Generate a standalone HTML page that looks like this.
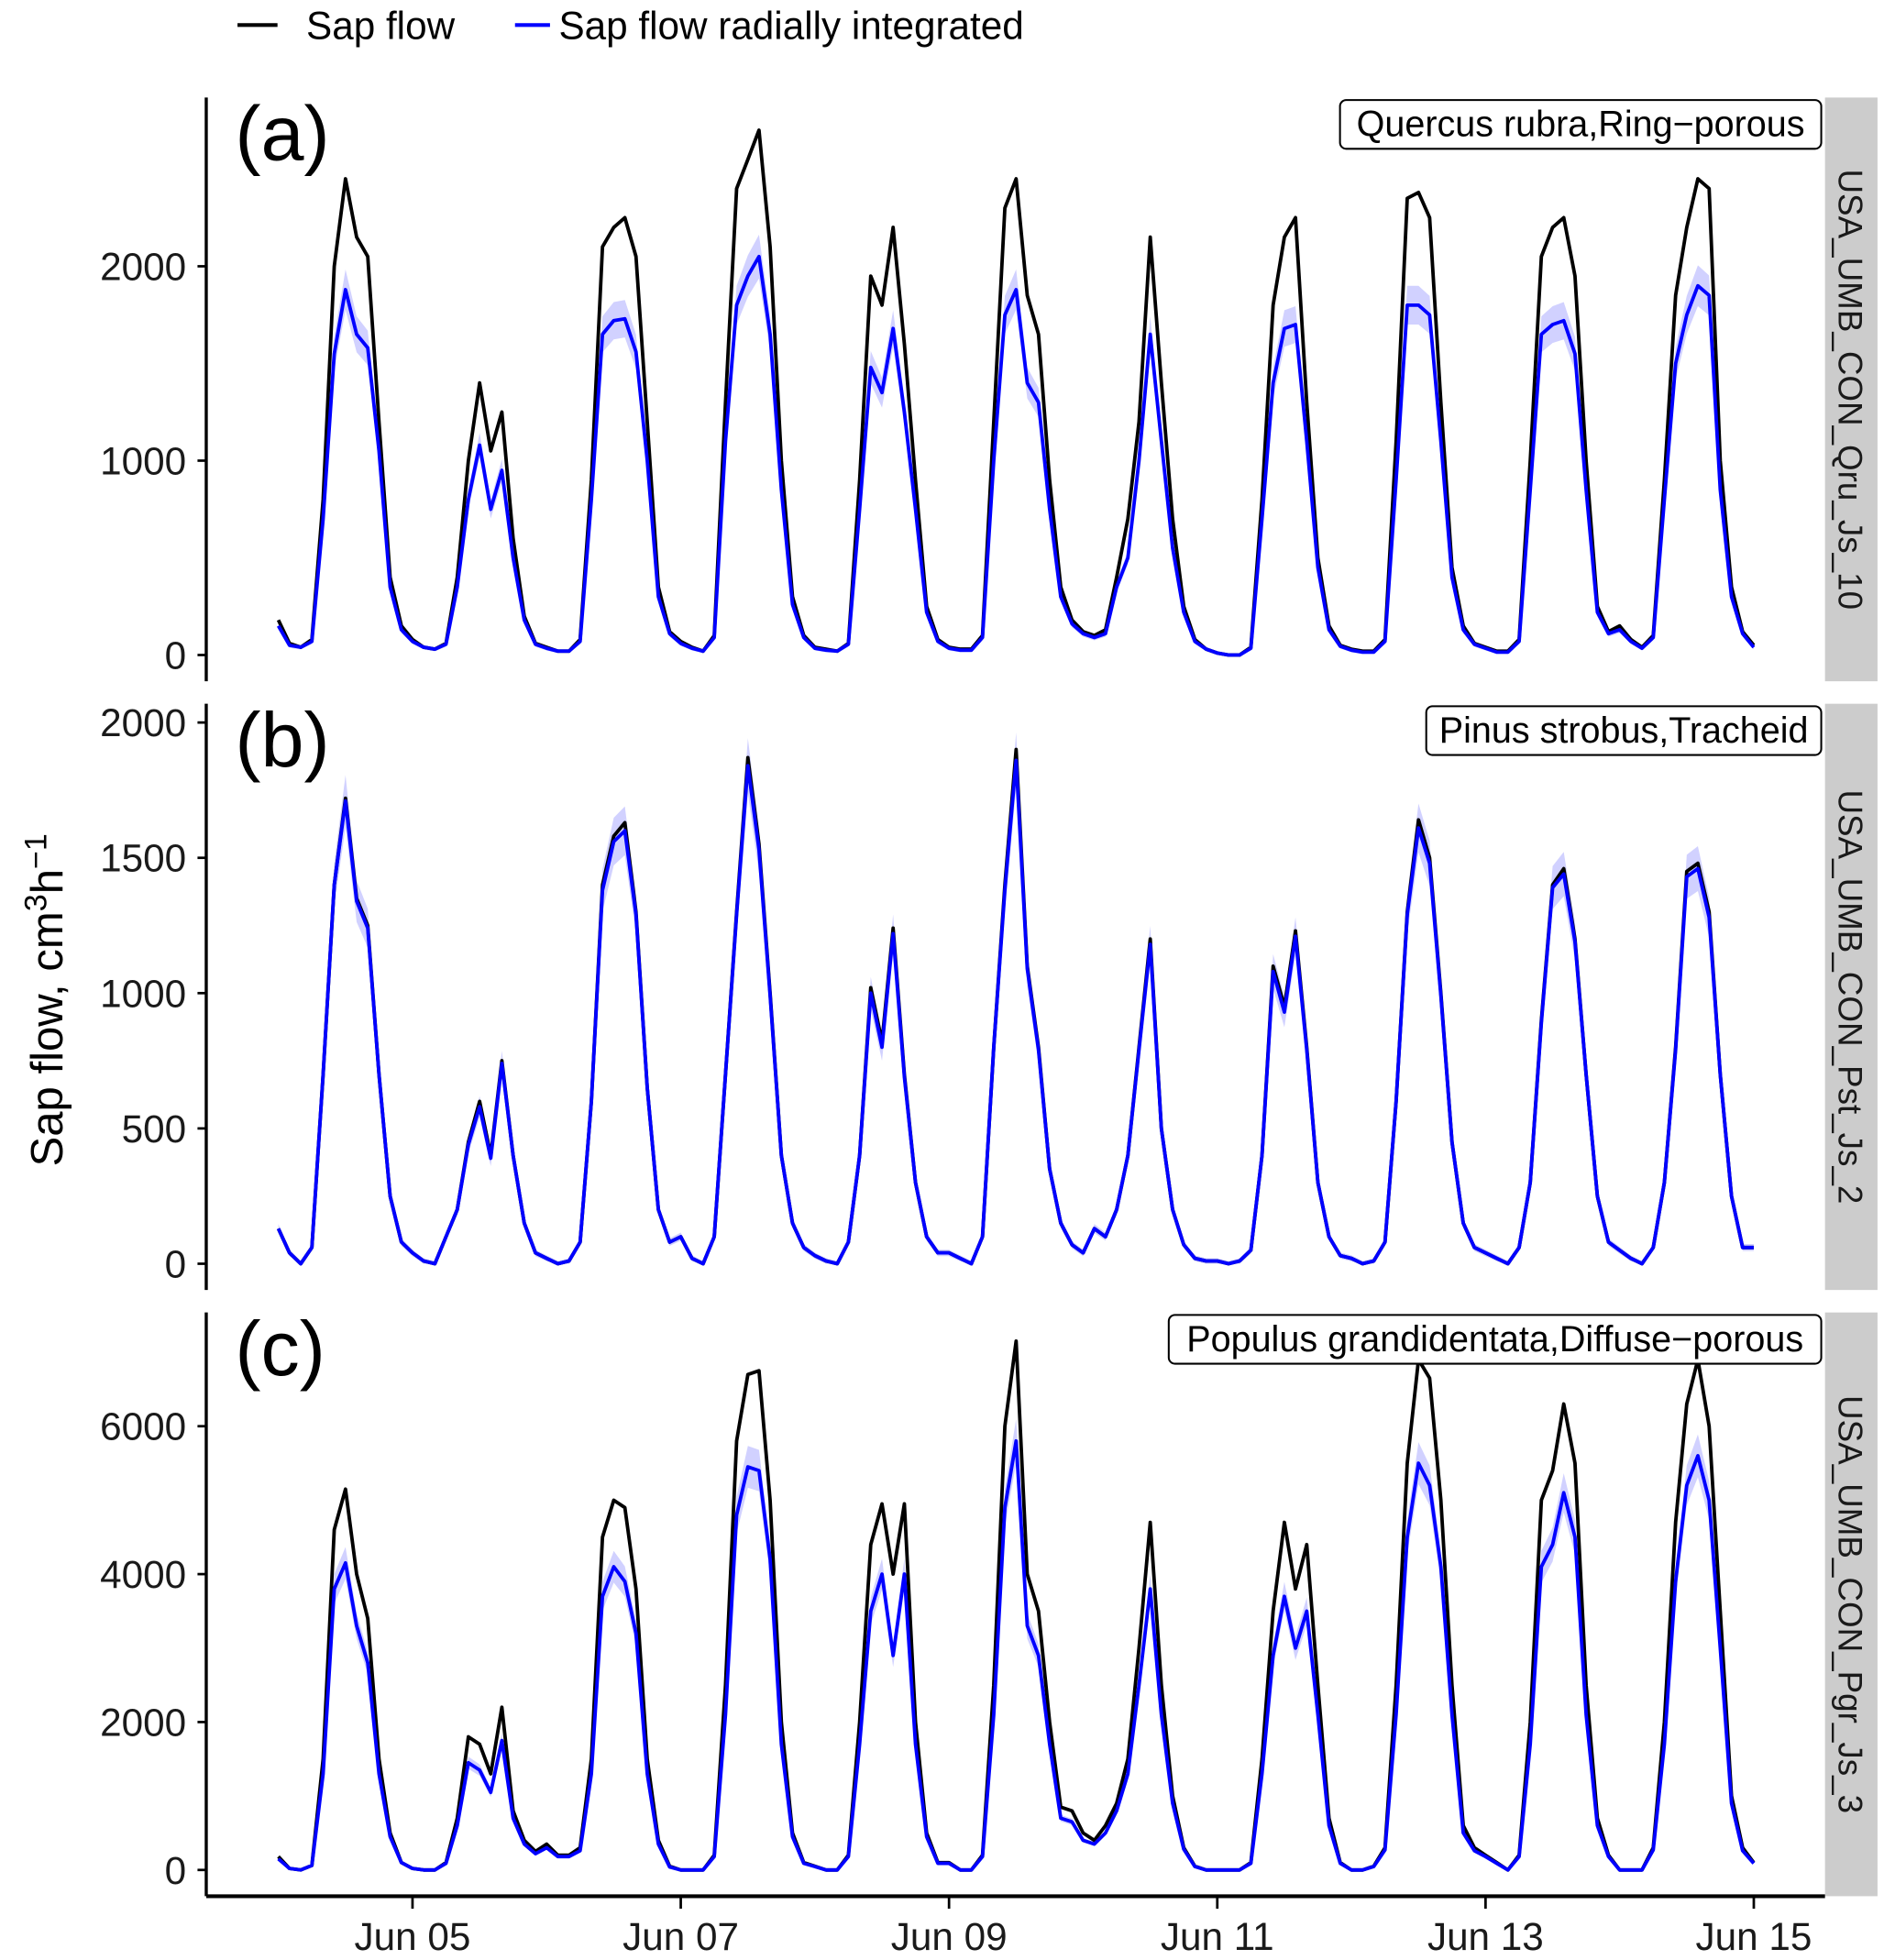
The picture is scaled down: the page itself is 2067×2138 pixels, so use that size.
<!DOCTYPE html>
<html><head><meta charset="utf-8"><style>
html,body{margin:0;padding:0;background:#fff}
svg{display:block;font-family:"Liberation Sans",Arial,sans-serif}
</style></head><body>
<svg id="chart" width="2067" height="2138" viewBox="0 0 1516 1568" xmlns="http://www.w3.org/2000/svg">
<g>
<line x1="190" y1="20" x2="222" y2="20" stroke="#000" stroke-width="3"/>
<text x="245" y="31" font-size="31">Sap flow</text>
<line x1="412" y1="20" x2="440" y2="20" stroke="#0000ff" stroke-width="3"/>
<text x="447" y="31" font-size="31">Sap flow radially integrated</text>
</g>
<text transform="translate(50,800) rotate(-90)" text-anchor="middle" font-size="36">Sap flow, cm<tspan dy="-13" font-size="25">3</tspan><tspan dy="13">h</tspan><tspan dy="-13" font-size="25">−1</tspan></text>
<g id="panels"></g>
</svg>
<script>
// hours sampled every 2h from Jun 04 00:00 to Jun 15 00:00
const stepHours = 2;
const aBlack = [180,60,40,80,800,2000,2450,2150,2050,1200,400,150, 80,40,30,60,400,1000,1400,1050,1250,600,200,60, 40,20,20,80,900,2100,2200,2250,2050,1200,350,120, 70,40,20,100,1300,2400,2550,2700,2100,1000,300,100, 40,30,20,60,900,1950,1800,2200,1600,900,250,80, 40,30,30,100,1200,2300,2450,1850,1650,900,350,180, 120,100,130,400,700,1200,2150,1400,700,250,80,30, 10,0,0,40,800,1800,2150,2250,1300,500,150,50, 30,20,20,80,1100,2350,2380,2250,1300,450,150,60, 40,20,20,80,1000,2050,2200,2250,1950,1000,250,120, 150,80,40,100,900,1850,2200,2450,2400,1000,350,120, 50];
const aBlue = [150,50,40,70,700,1550,1880,1650,1580,1050,350,130, 70,40,30,55,350,800,1080,750,950,500,180,55, 35,20,20,70,800,1650,1720,1730,1560,1000,300,110, 60,35,20,90,1100,1800,1950,2050,1650,850,260,90, 35,25,20,55,750,1480,1350,1680,1250,750,220,70, 35,25,25,90,1000,1750,1880,1400,1300,750,300,160, 110,90,110,350,500,1000,1650,1100,550,220,70,30, 10,0,0,35,700,1400,1680,1700,1100,450,130,45, 25,15,15,70,900,1800,1800,1750,1100,400,130,55, 35,15,15,70,850,1650,1700,1720,1550,850,220,110, 130,70,35,90,800,1500,1750,1900,1850,850,300,110, 40];
const bBlack = [130,40,0,60,700,1400,1720,1350,1250,700,250,80, 40,10,0,100,200,450,600,400,750,400,150,40, 20,0,10,80,600,1400,1580,1630,1300,650,200,80, 100,20,0,100,700,1300,1870,1550,1000,400,150,60, 30,10,0,80,400,1020,820,1240,700,300,100,40, 40,20,0,100,800,1400,1900,1100,800,350,150,70, 40,130,100,200,400,800,1200,500,200,70,20,10, 10,0,10,50,400,1100,950,1230,800,300,100,30, 20,0,10,80,600,1300,1640,1500,1000,450,150,60, 40,20,0,60,300,900,1400,1460,1200,700,250,80, 50,20,0,60,300,800,1450,1480,1300,700,250,60, 60];
const bBlue = [130,40,0,60,700,1400,1710,1340,1240,700,250,80, 40,10,0,100,200,440,580,390,740,400,150,40, 20,0,10,80,600,1380,1560,1600,1290,650,200,80, 100,20,0,100,700,1290,1840,1530,990,400,150,60, 30,10,0,80,400,1000,800,1220,690,300,100,40, 40,20,0,100,800,1380,1860,1090,790,350,150,70, 40,130,100,200,400,790,1180,500,200,70,20,10, 10,0,10,50,400,1080,930,1210,790,300,100,30, 20,0,10,80,600,1290,1610,1480,990,450,150,60, 40,20,0,60,300,890,1390,1440,1190,700,250,80, 50,20,0,60,300,790,1430,1460,1280,700,250,60, 60];
const cBlack = [180,20,0,60,1500,4600,5150,4000,3400,1500,500,100, 20,0,0,100,700,1800,1700,1300,2200,800,400,250, 350,200,200,300,1500,4500,5000,4900,3800,1500,400,50, 0,0,0,200,2500,5800,6700,6750,5000,2000,500,100, 50,0,0,200,2000,4400,4950,4000,4950,2000,500,100, 100,0,0,200,2500,6000,7150,4000,3500,2000,850,800, 500,400,600,900,1500,3000,4700,2500,1000,300,50,0, 0,0,0,100,1500,3500,4700,3800,4400,2500,700,100, 0,0,50,300,2500,5500,6900,6650,5000,2500,600,300, 200,100,0,200,2000,5000,5400,6300,5500,2500,700,200, 0,0,0,300,2000,4700,6300,6900,6000,3500,1000,300, 100];
const cBlue = [150,20,0,60,1300,3800,4150,3300,2800,1300,450,100, 20,0,0,90,600,1450,1350,1050,1750,700,350,220, 300,180,180,260,1300,3700,4100,3900,3200,1300,350,40, 0,0,0,180,2100,4800,5450,5400,4200,1700,450,90, 45,0,0,180,1700,3500,4000,2900,4000,1700,450,90, 90,0,0,180,2100,4900,5800,3300,2900,1700,700,650, 400,350,500,800,1300,2500,3800,2100,900,280,45,0, 0,0,0,90,1300,2900,3700,3000,3500,2100,600,90, 0,0,45,270,2100,4500,5500,5200,4100,2100,500,260, 180,90,0,180,1700,4100,4400,5100,4500,2100,600,180, 0,0,0,270,1700,3900,5200,5600,5000,3000,900,260, 90];
const xTickLabels = ["Jun 05","Jun 07","Jun 09","Jun 11","Jun 13","Jun 15"];
const xTickHours = [24,72,120,168,216,264];
const aTicks = [0,1000,2000];
const bTicks = [0,500,1000,1500,2000];
const cTicks = [0,2000,4000,6000];

const NS = "http://www.w3.org/2000/svg";
const root = document.getElementById('panels');
function mk(tag, attrs, parent){const e=document.createElementNS(NS,tag);for(const k in attrs)e.setAttribute(k,attrs[k]);(parent||root).appendChild(e);return e;}
const xScale = h => 222.7 + 4.471*h;
const panels = [
 {id:'a', black:aBlack, blue:aBlue, ticks:aTicks, top:78, bot:545, y0:524, k:0.1555, species:'Quercus rubra,Ring−porous', boxW:385, strip:'USA_UMB_CON_Qru_Js_10'},
 {id:'b', black:bBlack, blue:bBlue, ticks:bTicks, top:563, bot:1032, y0:1011, k:0.2165, species:'Pinus strobus,Tracheid', boxW:316, strip:'USA_UMB_CON_Pst_Js_2'},
 {id:'c', black:cBlack, blue:cBlue, ticks:cTicks, top:1050, bot:1517, y0:1496, k:0.05917, species:'Populus grandidentata,Diffuse−porous', boxW:522, strip:'USA_UMB_CON_Pgr_Js_3'}
];
panels.forEach(p=>{
 const ys = v => p.y0 - p.k*v;
 const g = mk('g',{});
 
 
 const strip = mk('rect',{x:1460,y:p.top,width:42,height:p.bot-p.top,fill:'#cccccc'},g);
 
 
 const st = mk('text',{transform:`translate(1471,${(p.top+p.bot)/2}) rotate(90)`,'text-anchor':'middle','font-size':'27',fill:'#1a1a1a'},g);
 st.textContent = p.strip;
 
 
 const ax = mk('line',{x1:165,y1:p.top,x2:165,y2:p.bot,stroke:'#000','stroke-width':2.5},g);
 
 
 p.ticks.forEach(t=>{
  mk('line',{x1:158,y1:ys(t),x2:165,y2:ys(t),stroke:'#000','stroke-width':2},g);
  const tl = mk('text',{x:149,y:ys(t)+11,'text-anchor':'end','font-size':'31',fill:'#1a1a1a'},g);
  tl.textContent = t;
  
  
 });
 let up='',dn='';
 p.blue.forEach((v,i)=>{up+=(i?'L':'M')+xScale(i*stepHours).toFixed(1)+','+ys(v*1.05+10).toFixed(1);});
 for(let i=p.blue.length-1;i>=0;i--){dn+='L'+xScale(i*stepHours).toFixed(1)+','+ys(Math.max(0,p.blue[i]*0.95-10)).toFixed(1);}
 const rib = mk('path',{d:up+dn+'Z',fill:'#0000ff','fill-opacity':0.18},g);
 
 
 const path = arr => arr.map((v,i)=>(i?'L':'M')+xScale(i*stepHours).toFixed(1)+','+ys(v).toFixed(1)).join('');
 const lb = mk('path',{d:path(p.black),fill:'none',stroke:'#000','stroke-width':2.8,'stroke-linejoin':'round'},g);
 
 
 const lu = mk('path',{d:path(p.blue),fill:'none',stroke:'#0000ff','stroke-width':2.8,'stroke-linejoin':'round'},g);
 
 
 const tag = mk('text',{x:188,y:p.top+50,'font-size':'62'},g);
 tag.textContent='('+p.id+')';
 
 
 const bx = mk('rect',{x:1457-p.boxW,y:p.top+2,width:p.boxW,height:39,rx:5,fill:'#fff',stroke:'#000','stroke-width':1.5},g);
 
 
 const sp = mk('text',{x:1457-p.boxW/2,y:p.top+31,'text-anchor':'middle','font-size':'29'},g);
 sp.textContent=p.species;
 
 
});
const xa = mk('line',{x1:165,y1:1517,x2:1460,y2:1517,stroke:'#000','stroke-width':3});


xTickHours.forEach((h,i)=>{
 mk('line',{x1:xScale(h),y1:1517,x2:xScale(h),y2:1527,stroke:'#000','stroke-width':2});
 const t = mk('text',{x:xScale(h),y:1560,'text-anchor':'middle','font-size':'31',fill:'#1a1a1a'});
 t.textContent = xTickLabels[i];
 
 
});
</script>
</body></html>
